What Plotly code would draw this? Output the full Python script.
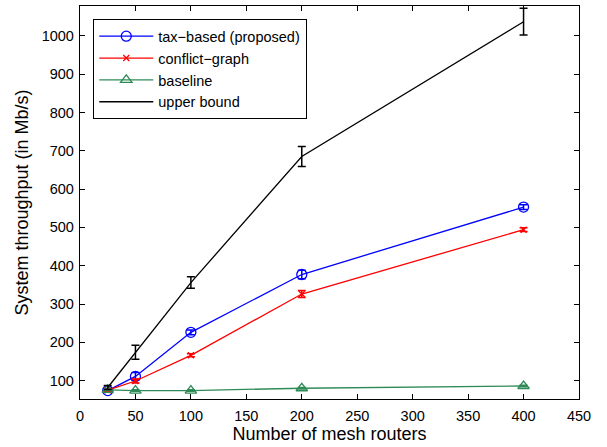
import plotly.graph_objects as go

routers = [25, 50, 100, 200, 400]

tax_based = [74, 111, 226, 377, 553]
tax_err = [4, 10, 6, 11, 6]

conflict = [75, 99, 166, 326, 494]
conflict_err = [3, 5, 4, 9, 5]

baseline = [76, 74, 74, 80, 86]
baseline_err = [2, 2, 2, 2, 2]

upper = [82, 174, 356, 685, 1037]
upper_err = [5, 18, 15, 26, 35]

x_ticks = [0, 50, 100, 150, 200, 250, 300, 350, 400, 450]
y_ticks = [100, 200, 300, 400, 500, 600, 700, 800, 900, 1000]

FONT = "Liberation Sans, Arial, Helvetica, sans-serif"

fig = go.Figure()

def add(name, y, err, color, symbol=None, msize=9, mode="lines+markers"):
    fig.add_trace(go.Scatter(
        x=routers, y=y, name=name, mode=mode,
        line=dict(color=color, width=1.3),
        marker=dict(symbol=symbol, size=msize, color=color,
                    line=dict(color=color, width=1.3)) if symbol else None,
        error_y=dict(type="data", array=err, visible=True, color=color,
                     thickness=1.5, width=4),
    ))

add("tax−based (proposed)", tax_based, tax_err, "#0000ff", "circle-open", 10)
add("conflict−graph", conflict, conflict_err, "#ff0000", "x-thin-open", 6)
add("baseline", baseline, baseline_err, "#2e8b57", "triangle-up-open", 10)
add("upper bound", upper, upper_err, "#000000", None, mode="lines")

axis_common = dict(
    showline=True, linecolor="black", linewidth=1.3, mirror="ticks",
    ticks="inside", ticklen=5, tickcolor="black", tickwidth=1,
    showgrid=False, zeroline=False, automargin=False,
    tickfont=dict(family=FONT, size=14.5, color="black"),
)

fig.update_layout(
    width=607, height=447,
    margin=dict(l=80, r=28, t=6, b=48),
    plot_bgcolor="white", paper_bgcolor="white",
    font=dict(family=FONT, color="black"),
    xaxis=dict(range=[0, 450], tickvals=x_ticks, ticklabelstandoff=3,
               title=dict(text="Number of mesh routers",
                          font=dict(family=FONT, size=18), standoff=0),
               **axis_common),
    yaxis=dict(range=[52, 1078], tickvals=y_ticks, ticklabelstandoff=2,
               title=dict(text="System throughput (in Mb/s)",
                          font=dict(family=FONT, size=18), standoff=8),
               **axis_common),
    legend=dict(x=0.026, y=0.967, xanchor="left", yanchor="top",
                bordercolor="black", borderwidth=1.3, bgcolor="white",
                font=dict(family=FONT, size=14.5, color="black"),
                itemwidth=54, tracegroupgap=0),
    showlegend=True,
)

fig.write_html("out.html", config={"displayModeBar": False},
               post_script="document.body.style.margin='0';document.body.style.overflow='hidden';")
